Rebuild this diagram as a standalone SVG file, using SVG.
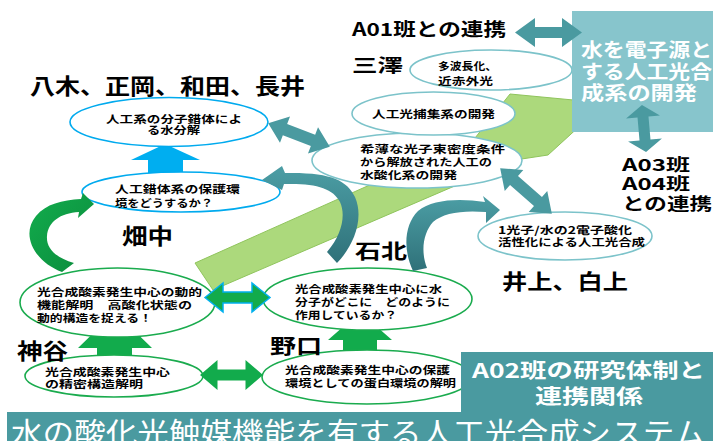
<svg xmlns="http://www.w3.org/2000/svg" width="713" height="441" viewBox="0 0 713 441">
<style>
.t{font-family:"Noto Sans CJK JP","Noto Sans",sans-serif;font-weight:700;fill:#000}
.w{fill:#fff}
.s{font-size:10.5px}
.e{fill:#fff;stroke-width:1.6}
.eb{stroke:#00aaee}.eg{stroke:#1aab4e}.et{stroke:#7cc3ca}
.tl{fill:#4a9aa0}
.gr{fill:#12ab4c}
</style>
<defs>
<linearGradient id="tg" x1="0" y1="0" x2="0" y2="1">
<stop offset="0" stop-color="#4c9ea5"/><stop offset="1" stop-color="#2f7179"/>
</linearGradient>
<linearGradient id="gg" x1="0" y1="0" x2="1" y2="1">
<stop offset="0" stop-color="#12ad4d"/><stop offset="1" stop-color="#0b8a3c"/>
</linearGradient>
</defs>
<rect width="713" height="441" fill="#fff"/>

<g id="connectors-back">
<polygon points="213,290 195,263 475,138 510,94 605,103 548,155 515,160" fill="#acd97c" stroke="#8fc45c" stroke-width="1"/>
<polygon points="165,144 200,160 183,160 183,175 148,175 148,160 131,160" fill="#00aef0"/>
<polygon points="115,312 152,348 132,348 132,358 97,358 97,348 78,348" class="gr"/>
<polygon points="360,312 392,340 377,340 377,352 343,352 343,340 328,340" class="gr"/>
</g>

<g id="n-watanabe"><ellipse cx="169" cy="122" rx="99" ry="24.5" class="e eb"/>
<text class="t s" x="106" y="122.5" textLength="136" lengthAdjust="spacingAndGlyphs">人工系の分子錯体によ</text>
<text class="t s" x="147" y="133.5" textLength="53" lengthAdjust="spacingAndGlyphs">る水分解</text></g>

<g id="n-hogo"><ellipse cx="181" cy="192" rx="99" ry="20" class="e eb"/>
<text class="t s" x="115" y="193" textLength="125" lengthAdjust="spacingAndGlyphs">人工錯体系の保護環</text>
<text class="t s" x="115" y="207" textLength="98" lengthAdjust="spacingAndGlyphs">境をどうするか？</text></g>

<g id="n-dotekikino"><ellipse cx="117.5" cy="302.5" rx="97.5" ry="34.5" class="e eg"/>
<text class="t s" x="37" y="296" textLength="165" lengthAdjust="spacingAndGlyphs">光合成酸素発生中心の動的</text>
<text class="t s" x="37" y="309" textLength="155" lengthAdjust="spacingAndGlyphs">機能解明　高酸化状態の</text>
<text class="t s" x="37" y="321.5" textLength="115" lengthAdjust="spacingAndGlyphs">動的構造を捉える！</text></g>

<g id="n-mizu"><ellipse cx="367.5" cy="299" rx="104.5" ry="31" class="e eg"/>
<text class="t s" x="295" y="292.5" textLength="147" lengthAdjust="spacingAndGlyphs">光合成酸素発生中心に水</text>
<text class="t s" x="295" y="306" textLength="155" lengthAdjust="spacingAndGlyphs">分子がどこに　どのように</text>
<text class="t s" x="295" y="319" textLength="102" lengthAdjust="spacingAndGlyphs">作用しているか？</text></g>

<g id="n-seimitsu"><ellipse cx="114" cy="376" rx="89" ry="21" class="e eg"/>
<text class="t s" x="45" y="375.5" textLength="125" lengthAdjust="spacingAndGlyphs">光合成酸素発生中心</text>
<text class="t s" x="45" y="388" textLength="98" lengthAdjust="spacingAndGlyphs">の精密構造解明</text></g>

<g id="n-tanpaku"><ellipse cx="367" cy="377" rx="105" ry="27" class="e eg"/>
<text class="t s" x="285" y="373.5" textLength="165" lengthAdjust="spacingAndGlyphs">光合成酸素発生中心の保護</text>
<text class="t s" x="285" y="386.5" textLength="171" lengthAdjust="spacingAndGlyphs">環境としての蛋白環境の解明</text></g>

<g id="n-1koshi"><ellipse cx="565" cy="236" rx="87" ry="24" class="e et"/>
<text class="t s" x="498" y="233.5" textLength="134" lengthAdjust="spacingAndGlyphs">1光子/水の2電子酸化</text>
<text class="t s" x="498" y="246" textLength="147" lengthAdjust="spacingAndGlyphs">活性化による人工光合成</text></g>

<g id="n-kihaku"><ellipse cx="417" cy="160.5" rx="105" ry="27.5" class="e et"/>
<text class="t s" x="360" y="153" textLength="145" lengthAdjust="spacingAndGlyphs">希薄な光子束密度条件</text>
<text class="t s" x="360" y="166" textLength="132" lengthAdjust="spacingAndGlyphs">から解放された人工の</text>
<text class="t s" x="360" y="178.5" textLength="97" lengthAdjust="spacingAndGlyphs">水酸化系の開発</text></g>

<g id="n-hoshu"><ellipse cx="433.5" cy="113.5" rx="81.5" ry="21.5" class="e et"/>
<text class="t s" x="372" y="118" textLength="123" lengthAdjust="spacingAndGlyphs">人工光捕集系の開発</text></g>

<g id="n-taha"><ellipse cx="491" cy="70" rx="81" ry="20" class="e et"/>
<text class="t s" x="438" y="70" textLength="59" lengthAdjust="spacingAndGlyphs">多波長化、</text>
<text class="t s" x="438" y="85" textLength="55" lengthAdjust="spacingAndGlyphs">近赤外光</text></g>

<g id="n-goal"><rect x="572" y="11" width="141" height="121" fill="#87c5cc"/>
<text class="t w" font-size="19" x="581" y="57" textLength="131" lengthAdjust="spacingAndGlyphs">水を電子源と</text>
<text class="t w" font-size="19" x="581" y="79" textLength="131" lengthAdjust="spacingAndGlyphs">する人工光合</text>
<text class="t w" font-size="19" x="581" y="100" textLength="116" lengthAdjust="spacingAndGlyphs">成系の開発</text></g>

<g id="connectors">
<path d="M-33.5 0 L-13.5 -14.5 L-13.5 -5.5 L13.5 -5.5 L13.5 -14.5 L33.5 0 L13.5 14.5 L13.5 5.5 L-13.5 5.5 L-13.5 14.5 Z" class="tl" transform="translate(548.5,32.5)"/>
<path d="M-23.5 0 L-11.5 -17 L-11.5 -5.5 L11.5 -5.5 L11.5 -17 L23.5 0 L11.5 17 L11.5 5.5 L-11.5 5.5 L-11.5 17 Z" class="tl" transform="translate(644,128.5) rotate(85)"/>
<path d="M-33 0 L-15 -14 L-15 -6 L15 -6 L15 -14 L33 0 L15 14 L15 6 L-15 6 L-15 14 Z" class="tl" transform="translate(299,135) rotate(21)"/>
<path d="M-34.5 0 L-16 -14 L-16 -6 L16 -6 L16 -14 L34.5 0 L16 14 L16 6 L-16 6 L-16 14 Z" class="tl" transform="translate(526,191) rotate(41.5)"/>
<path d="M-32.5 0 L-14.5 -14.5 L-14.5 -5.5 L14.5 -5.5 L14.5 -14.5 L32.5 0 L14.5 14.5 L14.5 5.5 L-14.5 5.5 L-14.5 14.5 Z" class="gr" stroke="#00b0f0" stroke-width="1.5" transform="translate(237.5,297.5)"/>
<path d="M-31.5 0 L-14 -15 L-14 -5.5 L14 -5.5 L14 -15 L31.5 0 L14 15 L14 5.5 L-14 5.5 L-14 15 Z" class="gr" transform="translate(231.5,375)"/>
<path d="M62 272 C35 262 20 235 36 216 C46 204 62 200 81 199 L83 193 L94 204 L78 218 L79 212 C60 213 48 222 47 236 C46 248 56 258 74 263 Z" fill="url(#gg)"/>
<path d="M337 263 C352 248 365 220 355 197 C347 180 330 172 285 173 L282 166 L262 180 L282 190 L284 184 C315 183 333 188 340 202 C346 215 342 235 327 252 Z" fill="url(#tg)"/>
<path d="M413 271 C403 250 404 225 418 211 C432 199 460 198 485 202 L483 196 L500 210 L486 223 L486 212 C462 210 443 213 433 222 C424 232 420 250 427 268 Z" fill="url(#tg)"/>
</g>

<g id="labels">
<text class="t" font-size="22" x="30" y="93.5" textLength="275" lengthAdjust="spacingAndGlyphs">八木、正岡、和田、長井</text>
<text class="t" font-size="18" x="352" y="36" textLength="154" lengthAdjust="spacingAndGlyphs">A01班との連携</text>
<text class="t" font-size="18" x="352" y="72" textLength="51" lengthAdjust="spacingAndGlyphs">三澤</text>
<text class="t" font-size="16.5" x="622" y="171" textLength="68" lengthAdjust="spacingAndGlyphs">A03班</text>
<text class="t" font-size="16.5" x="622" y="190" textLength="68" lengthAdjust="spacingAndGlyphs">A04班</text>
<text class="t" font-size="16.5" x="622" y="209.5" textLength="90" lengthAdjust="spacingAndGlyphs">との連携</text>
<text class="t" font-size="22" x="122" y="243.5" textLength="51" lengthAdjust="spacingAndGlyphs">畑中</text>
<text class="t" font-size="20" x="355" y="258.5" textLength="52" lengthAdjust="spacingAndGlyphs">石北</text>
<text class="t" font-size="21" x="502" y="288.5" textLength="126" lengthAdjust="spacingAndGlyphs">井上、白上</text>
<text class="t" font-size="22" x="17" y="358.5" textLength="51" lengthAdjust="spacingAndGlyphs">神谷</text>
<text class="t" font-size="20" x="270" y="353.5" textLength="52" lengthAdjust="spacingAndGlyphs">野口</text>
</g>

<g id="n-a02"><rect x="461" y="352" width="252" height="62" fill="#4a9aa0"/>
<text class="t w" font-size="20" x="472" y="378" textLength="233" lengthAdjust="spacingAndGlyphs">A02班の研究体制と</text>
<text class="t w" font-size="20" x="535" y="404" textLength="108" lengthAdjust="spacingAndGlyphs">連携関係</text></g>

<g id="n-title"><rect x="7" y="412" width="706" height="29" fill="#4a9aa0"/>
<text x="11" y="444" font-size="29.5" fill="#fff" font-family="'Noto Sans CJK JP','Noto Sans',sans-serif" textLength="694" lengthAdjust="spacingAndGlyphs">水の酸化光触媒機能を有する人工光合成システム</text></g>
</svg>
